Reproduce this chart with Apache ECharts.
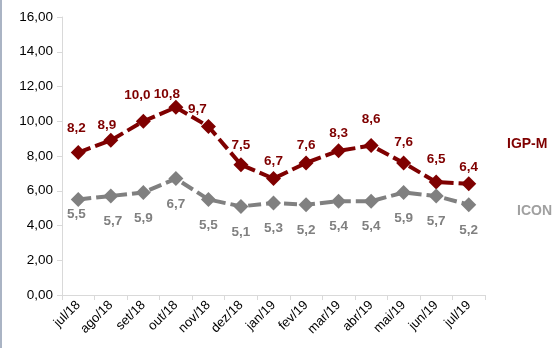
<!DOCTYPE html>
<html><head><meta charset="utf-8">
<script src="https://cdn.jsdelivr.net/npm/echarts@6/dist/echarts.min.js"></script>
<style>html,body{margin:0;padding:0;background:#fff}#c{width:559px;height:348px}</style>
</head><body><div id="c"></div>
<script>
const categories = ["jul/18","ago/18","set/18","out/18","nov/18","dez/18","jan/19","fev/19","mar/19","abr/19","mai/19","jun/19","jul/19"];
const igpm = [8.2, 8.9, 10.0, 10.8, 9.7, 7.5, 6.7, 7.6, 8.3, 8.6, 7.6, 6.5, 6.4];
const icon = [5.5, 5.7, 5.9, 6.7, 5.5, 5.1, 5.3, 5.2, 5.4, 5.4, 5.9, 5.7, 5.2];
const yTicks = [0, 2, 4, 6, 8, 10, 12, 14, 16];

const fmt1 = v => v.toFixed(1).replace('.', ',');
const fmt2 = v => v.toFixed(2).replace('.', ',');
const RED = '#7f0000', GRAY = '#808080';
const font = 'Liberation Sans, Arial, sans-serif';

// label placement tweaks (label layout only)
const igpmOffsets = {0: [-2, -7], 1: [-4, 2], 2: [-6, -8], 3: [-9, 4], 4: [-11, 0], 5: [0, -2], 9: [0, -9], 10: [0, -3], 11: [0, -5], 12: [0, 1]};
const igpmData = igpm.map((v, i) => {
  const o = igpmOffsets[i];
  return o ? {value: v, label: {offset: o}} : v;
});
const iconOffsets = {0: [-2, -11], 1: [2, 0]};
const iconData = icon.map((v, i) => {
  const o = iconOffsets[i];
  return o ? {value: v, label: {offset: o}} : v;
});

const chart = echarts.init(document.getElementById('c'), null, {renderer: 'canvas'});
chart.setOption({
  animation: false,
  grid: {left: 62, right: 74, top: 17, bottom: 53},
  xAxis: {
    type: 'category', data: categories, boundaryGap: true,
    axisLine: {lineStyle: {color: '#d9d9d9', width: 1}},
    axisTick: {show: true, length: 5, lineStyle: {color: '#d9d9d9'}},
    axisLabel: {rotate: 45, color: '#000', fontSize: 13, fontFamily: font, margin: 8, interval: 0}
  },
  yAxis: {
    type: 'value', min: 0, max: 16, interval: 2,
    axisLine: {show: true, lineStyle: {color: '#d9d9d9'}},
    axisTick: {show: true, length: 5, lineStyle: {color: '#d9d9d9'}},
    splitLine: {show: false},
    axisLabel: {color: '#000', fontSize: 13.5, fontFamily: font, margin: 9,
      formatter: v => yTicks.includes(v) ? fmt2(v) : ''}
  },
  series: [
    {
      name: 'IGP-M', type: 'line', data: igpmData,
      symbol: 'diamond', symbolSize: 15,
      itemStyle: {color: RED},
      lineStyle: {color: RED, width: 4, type: [13, 5]},
      label: {show: true, position: 'top', distance: 3, color: RED, fontWeight: 'bold', fontSize: 13.5, fontFamily: font,
        formatter: p => fmt1(p.value)}
    },
    {
      name: 'ICON', type: 'line', data: iconData,
      symbol: 'diamond', symbolSize: 15,
      itemStyle: {color: GRAY},
      lineStyle: {color: GRAY, width: 4, type: [13, 5]},
      label: {show: true, position: 'bottom', distance: 11, color: GRAY, fontWeight: 'bold', fontSize: 13.5, fontFamily: font,
        formatter: p => fmt1(p.value)}
    }
  ],
  graphic: [
    {type: 'rect', left: 0, top: 0, shape: {width: 2, height: 348}, style: {fill: '#aab4c4'}},
    {type: 'text', left: 507, top: 137, style: {text: 'IGP-M', fill: RED, font: 'bold 14px ' + font}},
    {type: 'text', left: 517, top: 204, style: {text: 'ICON', fill: '#a0a0a0', font: 'bold 14px ' + font}}
  ]
});
</script></body></html>
